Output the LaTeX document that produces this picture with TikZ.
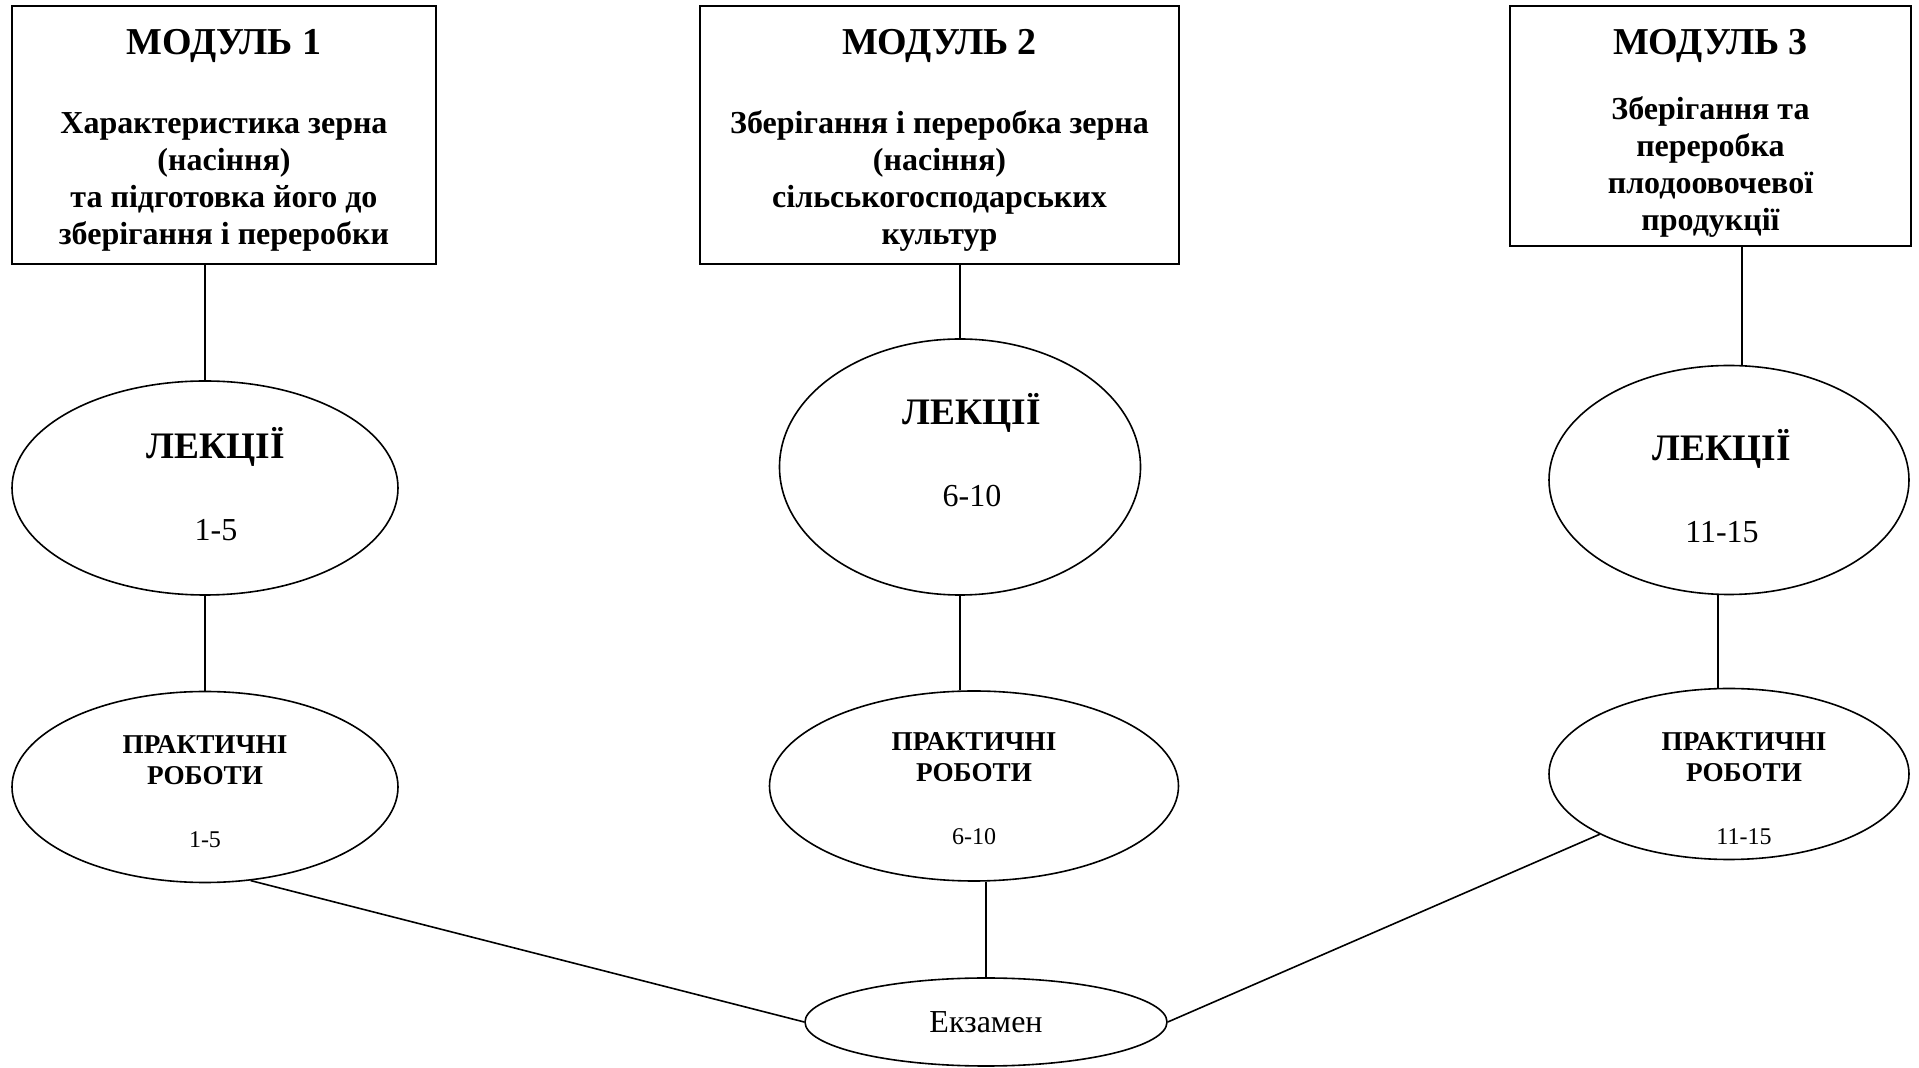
\documentclass[tikz,border=0pt]{standalone}
\usepackage{fontspec}
\setmainfont{Liberation Serif}
\usetikzlibrary{shapes.geometric}

\begin{document}
\begin{tikzpicture}[x=0.5pt,y=-0.5pt,thick,
        module node/.style={rectangle,draw,align=center,inner sep=0pt,
            font=\bfseries\fontsize{16}{18.5}\selectfont},
        lecture node/.style={ellipse,draw,align=center,inner sep=0pt,
            font=\fontsize{16}{20}\selectfont},
        practice node/.style={ellipse,draw,align=center,inner sep=0pt,
            font=\fontsize{12}{15.3}\selectfont},
        exam node/.style={ellipse,draw,inner sep=0pt,
            font=\fontsize{16}{19}\selectfont}]

    \useasboundingbox (0,0) rectangle (1919,1068);

    % Define vertices
    \node[module node,minimum width=212pt,minimum height=129pt] (M1) at (224,135)
        {{\bfseries\fontsize{19}{20}\selectfont\rule{0pt}{18pt}МОДУЛЬ 1}\\[21pt]
         Характеристика зерна\\(насіння)\\та підготовка його до\\зберігання і переробки};
    \node[module node,minimum width=239.5pt,minimum height=129pt] (M2) at (939.5,135)
        {{\bfseries\fontsize{19}{20}\selectfont\rule{0pt}{18pt}МОДУЛЬ 2}\\[21pt]
         Зберігання і переробка зерна\\(насіння)\\сільськогосподарських\\культур};
    \node[module node,minimum width=200.5pt,minimum height=120pt] (M3) at (1710.5,126)
        {{\bfseries\fontsize{19}{20}\selectfont\rule{0pt}{20pt}МОДУЛЬ 3}\\[13.8pt]
         Зберігання та\\переробка\\плодоовочевої\\продукції};

    \node[lecture node,minimum width=193pt,minimum height=107pt] (L1) at (205,488)
        {\hspace*{11pt}{\bfseries\fontsize{18.7}{20}\selectfont ЛЕКЦІЇ}\\[21pt]
         \hspace*{11pt}1-5\rule[-3.7pt]{0pt}{1pt}};
    \node[lecture node,minimum width=180.5pt,minimum height=128pt] (L2) at (960,467)
        {\hspace*{12pt}{\bfseries\fontsize{18.7}{20}\selectfont ЛЕКЦІЇ}\\[21pt]
         \hspace*{12pt}6-10\rule[-17pt]{0pt}{1pt}};
    \node[lecture node,minimum width=180pt,minimum height=114.5pt] (L3) at (1729,480)
        {{\bfseries\fontsize{18.7}{20}\selectfont\rule{0pt}{22pt}ЛЕКЦІЇ}\hspace*{7pt}\\[21pt]
         11-15\hspace*{7pt}};

    \node[practice node,minimum width=193pt,minimum height=95.5pt] (P1) at (205,787)
        {{\bfseries\fontsize{13.6}{15.3}\selectfont\rule{0pt}{14pt}ПРАКТИЧНІ}\\
         {\bfseries\fontsize{13.6}{15.3}\selectfont РОБОТИ}\\[16.5pt]1-5};
    \node[practice node,minimum width=204.5pt,minimum height=95pt] (P2) at (974,786)
        {{\bfseries\fontsize{13.6}{15.3}\selectfont\rule{0pt}{12pt}ПРАКТИЧНІ}\\
         {\bfseries\fontsize{13.6}{15.3}\selectfont РОБОТИ}\\[16.5pt]6-10};
    \node[practice node,minimum width=180pt,minimum height=85.5pt] (P3) at (1729,774) {};
    \node[align=center,inner sep=0pt,font=\fontsize{12}{15.3}\selectfont] (P3 text) at (1744,789)
        {{\bfseries\fontsize{13.6}{15.3}\selectfont ПРАКТИЧНІ}\\
         {\bfseries\fontsize{13.6}{15.3}\selectfont РОБОТИ}\\[16.5pt]11-15};

    \node[exam node,minimum width=181pt,minimum height=44pt] (E) at (986,1022) {Екзамен};

    \coordinate (t3) at ([xshift=6.5pt]L3.north);
    \coordinate (b3) at ([xshift=-5.5pt]L3.south);

    % Draw edges
    \path
        (M1.south -| L1.north) edge (L1.north)
        (M2.south -| L2.north) edge (L2.north)
        (M3.south -| t3) edge (t3)
        (L1.south) edge (P1.north)
        (L2.south) edge (L2.south |- P2.north)
        (b3) edge (b3 |- P3.north)
        (P1.-64) edge (E.west)
        (P2.south -| E.north) edge (E.north)
        (P3.205) edge (E.east);
\end{tikzpicture}
\end{document}
